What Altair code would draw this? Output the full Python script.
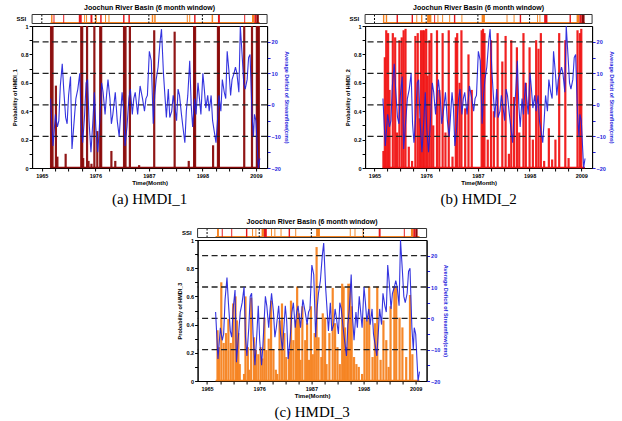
import altair as alt
import pandas as pd

# ---------------- data ----------------
# average deficit of streamflow (cms), same in all three panels
deficit_year = [
    1966.8, 1967.3, 1967.8, 1968.2, 1968.5, 1968.8, 1969.2, 1969.5, 1969.9, 1970.2,
    1970.5, 1970.9, 1971.2, 1971.5, 1972.0, 1972.4, 1972.8, 1973.1, 1973.4, 1973.8,
    1974.1, 1974.4, 1974.7, 1975.1, 1975.5, 1975.8, 1976.1, 1976.5, 1976.8, 1977.3,
    1977.6, 1978.0, 1978.3, 1978.6, 1979.0, 1979.3, 1979.6, 1980.1, 1980.5, 1980.9,
    1981.2, 1981.5, 1981.8, 1982.1, 1982.5, 1982.9, 1983.2, 1983.6, 1983.9, 1984.2,
    1984.7, 1985.2, 1985.7, 1986.1, 1986.4, 1986.7, 1987.1, 1987.5, 1987.9, 1988.2,
    1988.5, 1988.9, 1989.3, 1989.6, 1990.0, 1990.3, 1990.6, 1991.0, 1991.3, 1991.7,
    1992.0, 1992.3, 1992.7, 1993.0, 1993.3, 1993.7, 1994.0, 1994.4, 1994.7, 1995.0,
    1995.4, 1995.7, 1996.0, 1996.4, 1996.7, 1997.1, 1997.4, 1997.7, 1998.1, 1998.4,
    1998.7, 1999.1, 1999.4, 1999.8, 2000.1, 2000.4, 2000.8, 2001.1, 2001.4, 2001.8,
    2002.1, 2002.5, 2002.8, 2003.1, 2003.5, 2003.8, 2004.1, 2004.5, 2004.8, 2005.1,
    2005.5, 2005.8, 2006.2, 2006.5, 2006.8, 2007.2, 2007.5, 2007.8, 2008.2, 2008.5,
    2008.7, 2009.0, 2009.3, 2009.5, 2009.8,
]
deficit_value = [
    2, -13, -3, -7, -5, 6, 13, 5, -4, -6,
    3, 9, -14, -8, 2, 5, 10, -6, -12, -3,
    7, 8, -5, -15, -5, 4, -7, -15, -8, 7,
    4, -3, 3, 8, 2, -6, -3, 4, -5, -10,
    -3, 4, -1, -13, -7, 2, 5, -3, 2, 4,
    -3, 6, 2, -2, 2, 3, 17, 14, -6, 3,
    8, 12, 20, 24, 10, 3, -4, 5, -4, -2,
    3, 0, -5, 5, 3, -3, -7, -12, -2, 3,
    14, 0, -7, 2, -3, 7, 2, -3, 10, 5,
    -1, 3, -2, 3, -5, -8, -12, -5, 3, -2,
    8, 4, 2, 17, 10, 3, 8, 10, 12, 10,
    4, 25, 15, 7, 5, 8, 15, 16, -3, -10,
    -3, -5, -14, -20, -17,
]

# probability of HMDI_1 (dark red)
hmdi1_year = [1966.9, 1967.2, 1967.9, 1968.2, 1969.9, 1973.1, 1973.3, 1973.5, 1974.3, 1974.6,
              1975.2, 1975.8, 1976.4, 1977.0, 1977.2, 1979.3, 1980.1, 1981.9, 1982.2, 1983.1,
              1985.0, 1988.1, 1992.3, 1995.2, 1996.3, 1996.5, 2000.2, 2001.2, 2001.4, 2006.6,
              2008.2, 2009.2, 2009.4, 2009.6]
hmdi1_prob = [1.0, 1.0, 0.58, 0.08, 0.1, 1.0, 1.0, 0.07, 1.0, 0.05,
              0.03, 1.0, 0.26, 1.0, 1.0, 0.12, 0.05, 1.0, 1.0, 1.0,
              0.02, 0.97, 0.96, 0.05, 1.0, 1.0, 0.16, 1.0, 1.0, 1.0,
              1.0, 1.0, 1.0, 1.0]

# probability of HMDI_2 (red)
hmdi2_year = [1966.9, 1967.2, 1967.5, 1967.9, 1968.2, 1968.9, 1969.4, 1969.8, 1970.3, 1970.8,
              1971.2, 1971.6, 1972.3, 1973.0, 1973.7, 1974.2, 1974.6, 1974.9, 1975.3, 1975.6,
              1976.0, 1976.3, 1976.7, 1977.1, 1977.5, 1978.3, 1978.8, 1979.5, 1980.1, 1980.8,
              1981.6, 1982.3, 1982.6, 1983.1, 1983.5, 1984.3, 1985.0, 1985.7, 1987.8, 1988.1,
              1988.4, 1989.1, 1989.8, 1990.4, 1991.2, 1992.2, 1992.9, 1993.6, 1994.1, 1994.7,
              1995.3, 1995.8, 1996.7, 1997.2, 1998.0, 1998.7, 1999.4, 1999.9, 2000.4, 2001.1,
              2002.1, 2002.8, 2003.5, 2004.3, 2005.6, 2006.3, 2008.2, 2008.7, 2009.0]
hmdi2_prob = [0.12, 0.78, 0.97, 0.95, 0.55, 0.95, 0.92, 0.25, 0.90, 0.92,
              0.97, 0.98, 0.15, 0.05, 0.93, 0.95, 0.35, 0.97, 0.97, 0.97,
              0.98, 0.65, 0.90, 0.95, 0.30, 0.97, 0.55, 0.95, 0.25, 0.97,
              0.08, 0.92, 0.95, 0.60, 0.97, 0.42, 0.80, 0.55, 0.97, 0.98,
              0.95, 0.20, 0.90, 0.40, 0.95, 0.75, 0.93, 0.10, 0.90, 0.50,
              0.85, 0.25, 0.95, 0.60, 0.85, 0.20, 0.90, 0.84, 0.95, 0.05,
              0.28, 0.06, 0.20, 0.95, 0.90, 0.07, 0.97, 0.95, 0.98]

# probability of HMDI_3 (orange)
hmdi3_year = [1967.2, 1967.5, 1968.0, 1968.5, 1969.0, 1969.5, 1970.0, 1970.5, 1971.0, 1971.3,
              1971.6, 1971.9, 1972.8, 1973.1, 1973.6, 1973.9, 1974.3, 1974.9, 1975.3, 1975.8,
              1976.3, 1976.7, 1977.1, 1977.5, 1978.0, 1978.5, 1979.0, 1979.5, 1979.8, 1980.3,
              1980.8, 1981.3, 1981.7, 1982.3, 1982.7, 1983.2, 1983.7, 1984.0, 1984.4, 1984.7,
              1985.1, 1985.7, 1986.1, 1986.5, 1986.9, 1987.3, 1987.7, 1988.1, 1988.5, 1989.1,
              1989.4, 1989.9, 1990.2, 1990.8, 1991.5, 1992.0, 1992.5, 1993.0, 1993.5, 1993.8,
              1994.1, 1994.5, 1994.8, 1995.2, 1995.5, 1996.0, 1996.5, 1997.0, 1997.7, 1998.2,
              1998.7, 1999.2, 1999.9, 2000.4, 2000.9, 2001.6, 2002.2, 2002.8, 2003.3, 2003.7,
              2004.5, 2004.9, 2005.6, 2006.2, 2007.0, 2007.8, 2008.3]
hmdi3_prob = [0.36, 0.24, 0.70, 0.27, 0.34, 0.44, 0.27, 0.55, 0.60, 0.43,
              0.34, 0.12, 0.05, 0.60, 0.24, 0.08, 0.59, 0.31, 0.22, 0.19,
              0.24, 0.16, 0.45, 0.22, 0.30, 0.57, 0.22, 0.08, 0.05, 0.43,
              0.55, 0.34, 0.17, 0.21, 0.57, 0.29, 0.43, 0.67, 0.48, 0.15,
              0.53, 0.29, 0.41, 0.15, 0.53, 0.19, 0.34, 0.95, 0.31, 0.17,
              0.48, 0.45, 0.12, 0.34, 0.66, 0.41, 0.24, 0.12, 0.69, 0.67,
              0.38, 0.24, 0.69, 0.69, 0.53, 0.17, 0.12, 0.10, 0.05, 0.45,
              0.43, 0.67, 0.17, 0.41, 0.67, 0.15, 0.43, 0.29, 0.10, 0.53,
              0.67, 0.66, 0.45, 0.38, 0.17, 0.61, 0.19]

# SSI strip segments: (start year, end year, class)
ssi_1 = [(1966.9, 1967.2, 'orange'), (1967.4, 1967.6, 'red'), (1969.4, 1969.6, 'red'),
         (1972.6, 1973.2, 'red'), (1973.7, 1973.9, 'orange'), (1974.1, 1974.3, 'orange'),
         (1975.0, 1975.4, 'red'), (1976.0, 1976.3, 'orange'), (1977.0, 1977.3, 'red'),
         (1978.0, 1978.2, 'orange'), (1978.7, 1978.9, 'orange'), (1981.7, 1982.0, 'red'),
         (1982.8, 1983.1, 'red'), (1987.6, 1987.9, 'orange'), (1988.1, 1988.4, 'orange'),
         (1994.8, 1995.0, 'orange'), (1995.3, 1995.5, 'orange'), (1996.3, 1996.6, 'red'),
         (1999.9, 2000.2, 'orange'), (2001.2, 2001.6, 'red'), (2006.6, 2006.8, 'red'),
         (2008.2, 2008.7, 'orange'), (2008.7, 2009.1, 'red'), (2009.1, 2009.6, 'dark')]
ssi_2 = [(1966.8, 1967.1, 'orange'), (1967.4, 1967.7, 'orange'), (1969.7, 1970.0, 'red'),
         (1972.9, 1973.2, 'red'), (1973.9, 1974.1, 'orange'), (1974.9, 1975.2, 'orange'),
         (1976.2, 1977.1, 'orange'), (1977.7, 1977.9, 'red'), (1978.4, 1978.6, 'orange'),
         (1979.4, 1979.6, 'orange'), (1980.9, 1981.1, 'orange'), (1981.9, 1982.2, 'red'),
         (1983.5, 1983.7, 'orange'), (1987.8, 1988.5, 'orange'), (1993.1, 1993.3, 'orange'),
         (1994.6, 1994.8, 'orange'), (1995.9, 1996.2, 'red'), (1999.6, 1999.8, 'orange'),
         (2000.1, 2000.3, 'orange'), (2001.1, 2001.8, 'red'), (2006.5, 2006.8, 'red'),
         (2008.0, 2008.6, 'orange'), (2008.6, 2009.1, 'red'), (2009.1, 2009.7, 'dark')]
ssi_3 = [(1967.1, 1967.5, 'orange'), (1968.1, 1968.3, 'red'), (1970.1, 1970.3, 'red'),
         (1973.2, 1973.5, 'red'), (1974.5, 1974.7, 'orange'), (1975.2, 1975.4, 'orange'),
         (1976.5, 1977.0, 'orange'), (1977.0, 1977.6, 'red'), (1978.5, 1978.7, 'orange'),
         (1979.2, 1979.4, 'orange'), (1980.5, 1980.7, 'orange'), (1982.2, 1982.5, 'red'),
         (1983.6, 1983.8, 'orange'), (1988.0, 1988.8, 'orange'), (1995.1, 1995.3, 'orange'),
         (1996.1, 1996.3, 'orange'), (1997.8, 1998.0, 'orange'), (2001.2, 2001.6, 'red'),
         (2006.5, 2006.7, 'red'), (2008.0, 2008.5, 'orange'), (2008.5, 2009.0, 'red'),
         (2009.0, 2009.4, 'dark')]
ssi_span = (1966.8, 2009.8)

ref_levels = [-10, 0, 10, 20]
major_years = [1965, 1976, 1987, 1998, 2009]
strip_dash_years = [1965, 1976, 1987, 1998]
title_text = "Joochun River Basin (6 month window)"

# ---------------- styling ----------------
X_DOMAIN = [1963.0, 2011.3]
R_DOMAIN = [-20, 25]
BLUE = "#1E1EDC"
SSI_KINDS = ["orange", "red", "dark"]
SSI_COLORS = ["#F5821F", "#E5161B", "#870A0A"]
FONT = "Liberation Sans"

x_tick_values = [1965, 1967.75, 1970.5, 1973.25, 1976, 1978.75, 1981.5, 1984.25, 1987,
                 1989.75, 1992.5, 1995.25, 1998, 2000.75, 2003.5, 2006.25, 2009]


def xenc(field):
    return alt.X(field, type="quantitative", scale=alt.Scale(domain=X_DOMAIN, nice=False, zero=False),
                 title="Time(Month)",
                 axis=alt.Axis(values=x_tick_values,
                               labelExpr="indexof([1965,1976,1987,1998,2009], datum.value) >= 0 ? format(datum.value, 'd') : ''",
                               grid=False, tickSize=3, labelFontSize=5.5, labelFont=FONT, labelFontWeight="bold",
                               labelPadding=2, titleFontSize=6, titleFont=FONT, titleFontWeight="bold",
                               titlePadding=1, domainColor="black", tickColor="black", labelColor="black"))


def panel(idx, years, probs, bar_color, ssi, W, H, caption):
    bar_df = pd.DataFrame({"year": years, "prob": probs})
    line_df = pd.DataFrame({"year": deficit_year, "deficit": deficit_value})
    seg_df = pd.DataFrame(ssi, columns=["start", "end", "kind"])
    span_df = pd.DataFrame({"start": [ssi_span[0]], "end": [ssi_span[1]]})
    dash_df = pd.DataFrame({"year": strip_dash_years})
    ref_df = pd.DataFrame({"level": ref_levels})
    one = pd.DataFrame({"t": [title_text], "s": ["SSI"]})

    s_top, s_bot = -11.5, -2.5

    strip_bg = alt.Chart(one).mark_rect(fill="white").encode(
        x=alt.value(0), x2=alt.value(W), y=alt.value(s_top), y2=alt.value(s_bot))
    strip_line = alt.Chart(span_df).mark_rule(color="#F5821F", strokeWidth=1.2).encode(
        x=xenc("start"), x2="end", y=alt.value(s_bot - 1))
    strip_seg = alt.Chart(seg_df).mark_rect().encode(
        x=xenc("start"), x2="end", y=alt.value(s_top), y2=alt.value(s_bot),
        color=alt.Color("kind:N", scale=alt.Scale(domain=SSI_KINDS, range=SSI_COLORS), legend=None))
    strip_dash = alt.Chart(dash_df).mark_rule(color="black", strokeDash=[2, 1.5], strokeWidth=1).encode(
        x=xenc("year"), y=alt.value(s_top), y2=alt.value(s_bot))
    strip_border = alt.Chart(one).mark_rect(fill=None, stroke="#333333", strokeWidth=1).encode(
        x=alt.value(0), x2=alt.value(W), y=alt.value(s_top), y2=alt.value(s_bot))
    ssi_label = alt.Chart(one).mark_text(align="right", baseline="middle", fontSize=6, font=FONT,
                                         fontWeight="bold", color="black").encode(
        x=alt.value(-6), y=alt.value((s_top + s_bot) / 2), text="s:N")
    top_title = alt.Chart(one).mark_text(align="center", baseline="middle", fontSize=7, font=FONT,
                                         fontWeight="bold", color="black").encode(
        x=alt.value(W / 2), y=alt.value(-18), text="t:N")

    bars = alt.Chart(bar_df).transform_calculate(base="0").mark_rule(
        color=bar_color, strokeWidth=2.2, opacity=0.95).encode(
        x=xenc("year"),
        y=alt.Y("prob:Q", scale=alt.Scale(domain=[0, 1], nice=False),
                title=f"Probability of HMDI_{idx}",
                axis=alt.Axis(orient="left", values=[0, 0.1, 0.2, 0.3, 0.4, 0.5, 0.6, 0.7, 0.8, 0.9, 1.0],
                              labelExpr="round(datum.value*10) % 2 == 0 ? format(datum.value, '~g') : ''",
                              grid=False, tickSize=3, labelFontSize=5.5, labelFont=FONT,
                              labelFontWeight="bold", labelPadding=1, titleFontSize=5.5, titleFont=FONT,
                              titleFontWeight="bold", titlePadding=3, domainColor="black",
                              tickColor="black", labelColor="black", titleColor="black")),
        y2="base:Q")
    baseline = alt.Chart(span_df).mark_rule(color=bar_color, strokeWidth=1.5).encode(
        x=xenc("start"), x2="end", y=alt.value(H - 0.5))
    refs = alt.Chart(ref_df).mark_rule(color="#222222", strokeDash=[6, 3.5], strokeWidth=1.3).encode(
        y=alt.Y("level:Q", scale=alt.Scale(domain=R_DOMAIN, nice=False), axis=None))
    line = alt.Chart(line_df).mark_line(color=BLUE, strokeWidth=1.1, opacity=0.9).encode(
        x=xenc("year"),
        y=alt.Y("deficit:Q", scale=alt.Scale(domain=R_DOMAIN, nice=False),
                title="Average Deficit of Streamflow(cms)",
                axis=alt.Axis(orient="right", values=[-20, -15, -10, -5, 0, 5, 10, 15, 20],
                              labelExpr="datum.value % 10 == 0 ? format(datum.value, 'd') : ''",
                              grid=False, tickSize=3, labelFontSize=5.5, labelFont=FONT,
                              labelFontWeight="bold", labelPadding=1, titleFontSize=5.5, titleFont=FONT,
                              titleFontWeight="bold", titlePadding=3, domainColor="black",
                              tickColor=BLUE, labelColor=BLUE, titleColor=BLUE)))

    return alt.layer(strip_bg, strip_line, strip_seg, strip_dash, strip_border, ssi_label, top_title,
                     bars, baseline, refs, line).resolve_scale(y="independent").properties(
        width=W, height=H,
        title=alt.TitleParams(text=caption, orient="bottom", anchor="middle", font="Liberation Serif",
                              fontSize=15, fontWeight="normal", color="black", offset=6))


pa = panel(1, hmdi1_year, hmdi1_prob, "#8A0A0A", ssi_1, 235, 142, "(a)  HMDI_1")
pb = panel(2, hmdi2_year, hmdi2_prob, "#F01515", ssi_2, 227, 142, "(b)  HMDI_2")
pc = panel(3, hmdi3_year, hmdi3_prob, "#F5821F", ssi_3, 229, 141, "(c)  HMDI_3")

chart = alt.vconcat(alt.hconcat(pa, pb, spacing=55), pc, spacing=10, center=True).configure(
    padding={"left": 11, "top": 3, "right": 5, "bottom": 0}, background="white").configure_view(
    stroke="black", strokeWidth=1)

chart.save("out.html", embed_options={"renderer": "svg", "actions": False})
